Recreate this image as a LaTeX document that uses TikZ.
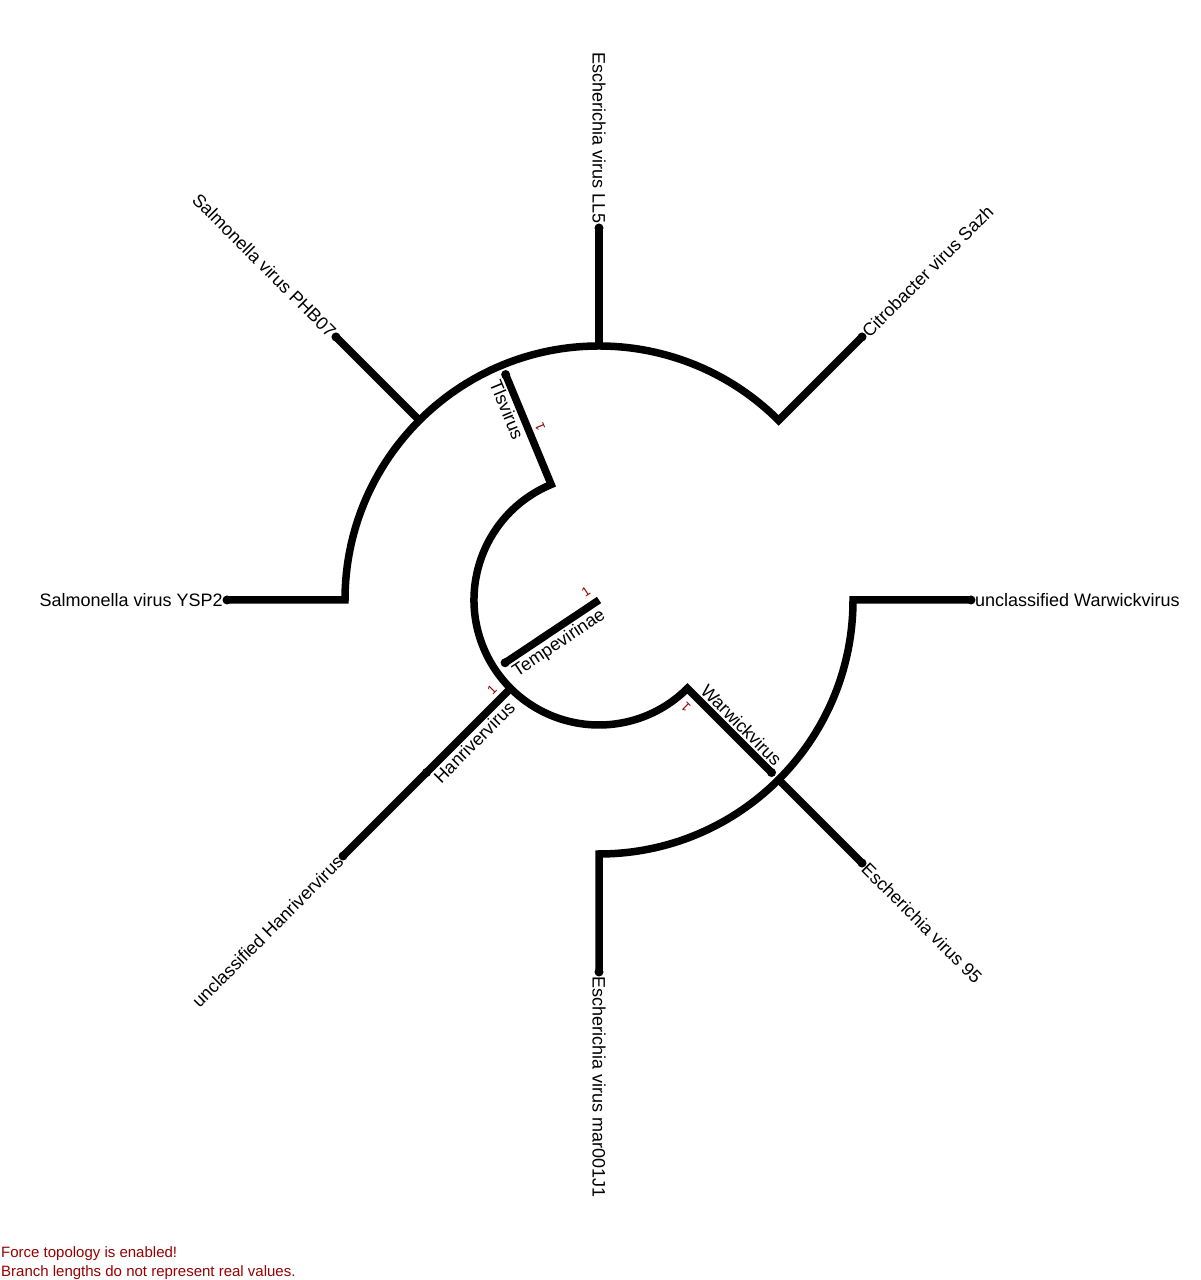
\documentclass[tikz,border=0pt]{standalone}
\usepackage{fontspec}
\setmainfont{Liberation Sans}
\usepackage{tikz}
\definecolor{lenred}{RGB}{150,0,0}

\begin{document}
\begin{tikzpicture}[x=1pt,y=1pt]
            \tikzstyle{every node}=[font=\fontsize{18}{21}\selectfont]
            \tikzstyle{branch}=[line width=7.5pt]
            \tikzstyle{tip}=[circle, fill=black, inner sep=0pt, minimum size=9pt]
            \tikzstyle{leaflabel}=[inner xsep=4pt, inner ysep=0pt]
            \tikzstyle{cladelabel}=[inner xsep=2pt, inner ysep=5.5pt]
            \tikzstyle{lenlabel}=[font=\fontsize{13}{15}\selectfont, text=lenred, inner sep=0pt]
            \useasboundingbox (0,0) rectangle (1200,1280);
            \begin{scope}[shift={(599,680)}]
            % nodes of the tree
            \coordinate (root) at (0,0);
            \node [tip] (tempe) at (213.75:113) {};
            \node [tip] (tls) at (112.5:244) {};
            \node [tip] (hanr) at (225:244) {};
            \node [tip] (warw) at (-45:244) {};
            \node [tip] (ysp2) at (180:372) {};
            \node [tip] (phb07) at (135:372) {};
            \node [tip] (ll5) at (90:372) {};
            \node [tip] (sazh) at (45:372) {};
            \node [tip] (uwarw) at (0:372) {};
            \node [tip] (ev95) at (-45:372) {};
            \node [tip] (mar) at (-90:372) {};
            \node [tip] (uhanr) at (225:362) {};
            % branches
            \draw [branch] (tempe.center) -- (root);
            \draw [branch] (tls.center) -- (112.5:125) arc[start angle=112.5, end angle=315, radius=125] -- (warw.center);
            \draw [branch] (225:125) -- (hanr.center) -- (uhanr.center);
            \draw [branch] (ysp2.center) -- (180:254) arc[start angle=180, end angle=45, radius=254] -- (sazh.center);
            \draw [branch] (135:254) -- (phb07.center);
            \draw [branch] (90:254) -- (ll5.center);
            \draw [branch] (uwarw.center) -- (0:254) arc[start angle=0, end angle=-90, radius=254] -- (mar.center);
            \draw [branch] (-45:254) -- (ev95.center);
            % leaf labels
            \node [leaflabel, anchor=east] at (ysp2.center) {Salmonella virus YSP2};
            \node [leaflabel, anchor=east, rotate=-45] at (phb07.center) {Salmonella virus PHB07};
            \node [leaflabel, anchor=east, rotate=-90] at (ll5.center) {Escherichia virus LL5};
            \node [leaflabel, anchor=west, rotate=45] at (sazh.center) {Citrobacter virus Sazh};
            \node [leaflabel, anchor=west] at (uwarw.center) {unclassified Warwickvirus};
            \node [leaflabel, anchor=west, rotate=-45] at (ev95.center) {Escherichia virus 95};
            \node [leaflabel, anchor=west, rotate=-90] at (mar.center) {Escherichia virus mar001J1};
            \node [leaflabel, anchor=east, rotate=45] at (uhanr.center) {unclassified Hanrivervirus};
            % clade labels
            \node [cladelabel, anchor=north west, rotate=33.75] at (tempe.center) {Tempevirinae};
            \node [cladelabel, anchor=north west, rotate=-67.5] at (tls.center) {Tlsvirus};
            \node [cladelabel, anchor=north west, rotate=45] at (hanr.center) {Hanrivervirus};
            \node [cladelabel, anchor=south east, rotate=-45] at (warw.center) {Warwickvirus};
            % branch lengths
            \node [lenlabel, rotate=33.75] (len-tempe) at (-13,8) {1};
            \node [lenlabel, rotate=112.5] (len-tls) at (-59,173) {1};
            \node [lenlabel, rotate=45] (len-hanr) at (-107,-90) {1};
            \node [lenlabel, rotate=135] (len-warw) at (87,-107) {1};
            \end{scope}
            \node [font=\fontsize{15}{18}\selectfont, text=lenred, anchor=base west, inner sep=0pt] (note1) at (1,22) {Force topology is enabled!};
            \node [font=\fontsize{15}{18}\selectfont, text=lenred, anchor=base west, inner sep=0pt] (note2) at (1,4) {Branch lengths do not represent real values.};
        \end{tikzpicture}
\end{document}
